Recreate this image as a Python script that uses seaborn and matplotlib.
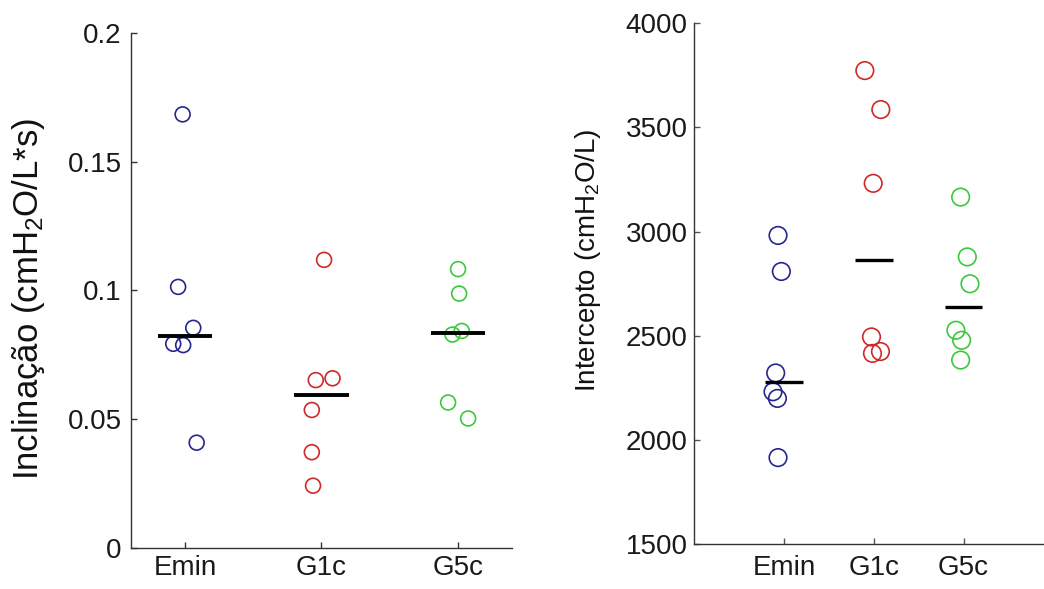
import numpy as np
import pandas as pd
import matplotlib
matplotlib.use("Agg")
import matplotlib.pyplot as plt
import seaborn as sns

# ---------------- data ----------------
categories = ["Emin", "G1c", "G5c"]
colors = ["#26268f", "#d02828", "#3cc83c"]

incl_emin = [0.1684, 0.1014, 0.0855, 0.0793, 0.0788, 0.0409]
incl_g1c = [0.1119, 0.0652, 0.0659, 0.0536, 0.0372, 0.0242]
incl_g5c = [0.1083, 0.0988, 0.0829, 0.0843, 0.0565, 0.0503]
incl_jit_emin = [-0.019, -0.052, 0.059, -0.088, -0.015, 0.084]
incl_jit_g1c = [0.019, -0.042, 0.081, -0.071, -0.071, -0.062]
incl_jit_g5c = [0.002, 0.010, -0.039, 0.029, -0.071, 0.076]

int_emin = [2982, 2809, 2322, 2232, 2200, 1916]
int_g1c = [3773, 3586, 3232, 2495, 2416, 2425]
int_g5c = [3166, 2879, 2750, 2527, 2479, 2384]
int_jit_emin = [-0.067, -0.030, -0.093, -0.123, -0.074, -0.067]
int_jit_g1c = [-0.100, 0.078, -0.007, -0.026, -0.015, 0.074]
int_jit_g5c = [-0.033, 0.041, 0.071, -0.086, -0.022, -0.033]

incl_ticks = [0, 0.05, 0.1, 0.15, 0.2]
incl_ticklabels = ["0", "0.05", "0.1", "0.15", "0.2"]
int_ticks = [1500, 2000, 2500, 3000, 3500, 4000]

# ---------------- style ----------------
sns.set_theme(style="white")
plt.rcParams["font.family"] = ["Liberation Sans", "DejaVu Sans"]
plt.rcParams["mathtext.fontset"] = "custom"
plt.rcParams["mathtext.rm"] = "Liberation Sans"
plt.rcParams["mathtext.it"] = "Liberation Sans"
plt.rcParams["mathtext.default"] = "regular"


def build_df(vals, jits):
    rows = []
    for i, (cat, v, j) in enumerate(zip(categories, vals, jits)):
        for val, jit in zip(v, j):
            rows.append({"group": cat, "pos": i + jit, "value": val, "idx": i})
    return pd.DataFrame(rows)


df_l = build_df([incl_emin, incl_g1c, incl_g5c],
                [incl_jit_emin, incl_jit_g1c, incl_jit_g5c])
df_r = build_df([int_emin, int_g1c, int_g5c],
                [int_jit_emin, int_jit_g1c, int_jit_g5c])

fig = plt.figure(figsize=(10.44, 5.89), dpi=100)
ax1 = fig.add_axes([0.1252, 0.0696, 0.3655, 0.8744])
ax2 = fig.add_axes([0.665, 0.0759, 0.344, 0.8846])


def draw(ax, df, msize, medlw, halfw):
    sns.scatterplot(data=df, x="pos", y="value", hue="group",
                    palette=dict(zip(categories, colors)), s=msize,
                    marker="o", linewidth=1.2, legend=False, ax=ax, zorder=2)
    pts = ax.collections[-1]
    fc = pts.get_facecolors()
    pts.set_edgecolors(fc)
    pts.set_facecolors("none")
    meds = df.groupby("idx")["value"].median()
    ax.hlines(meds.values, meds.index - halfw, meds.index + halfw,
              colors="black", linewidth=medlw, zorder=3)
    ax.set_xticks(range(len(categories)))
    ax.set_xticklabels(categories)
    for s in ["top", "right"]:
        ax.spines[s].set_visible(False)
    for s in ["left", "bottom"]:
        ax.spines[s].set_color("#333333")
        ax.spines[s].set_linewidth(1.0)
    ax.set_xlabel("")


draw(ax1, df_l, 115, 2.8, 0.2)
ax1.set_xlim(-0.4, 2.4)
ax1.set_ylim(0, 0.2)
ax1.set_yticks(incl_ticks)
ax1.set_yticklabels(incl_ticklabels)
ax1.tick_params(axis="both", direction="in", length=4.5, width=1,
                color="#333333", labelsize=20, labelcolor="#1a1a1a",
                bottom=True, left=True)
ax1.tick_params(axis="y", pad=6.5)
ax1.tick_params(axis="x", pad=5)
ax1.set_ylabel("Inclinação (cmH$_2$O/L*s)", fontsize=25, color="#111111")
ax1.yaxis.set_label_coords(-0.219, 0.4845)

draw(ax2, df_r, 160, 2.4, 0.21)
ax2.set_xlim(-1, 3)
ax2.set_ylim(1500, 4000)
ax2.set_yticks(int_ticks)
ax2.tick_params(axis="both", direction="in", length=4.5, width=1,
                color="#555555", labelsize=20, labelcolor="#1a1a1a",
                bottom=True, left=True)
ax2.tick_params(axis="y", pad=4.8)
ax2.tick_params(axis="x", pad=8)
ax2.set_ylabel("Intercepto (cmH$_2$O/L)", fontsize=20, color="#111111")
ax2.yaxis.set_label_coords(-0.254, 0.546)

fig.savefig("out.png", dpi=100)
